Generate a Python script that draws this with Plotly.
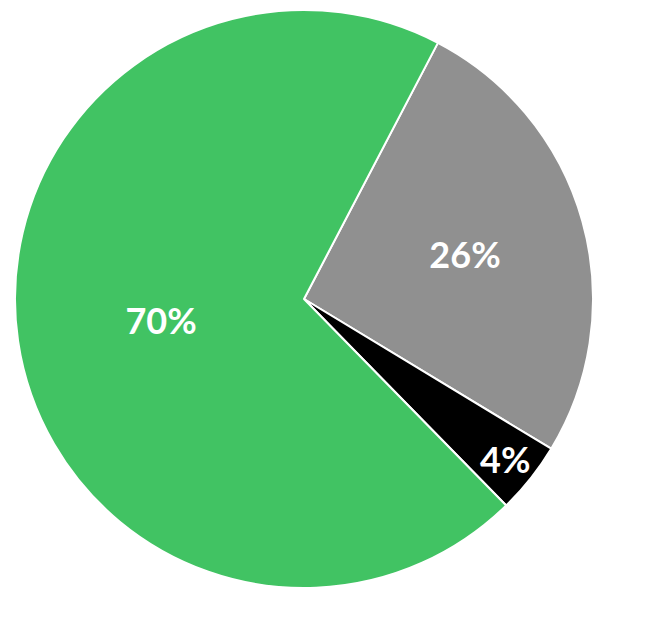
import plotly.graph_objects as go

labels = ["Gray", "Black", "Green"]
values = [26, 4, 70]
colors = ["#909090", "#000000", "#41C363"]

W, H = 648, 630
# page body has an 8px offset; place centre so it lands at (304, 299) on screen
cx, cy, r = 296, 291, 289

fig = go.Figure(go.Pie(
    labels=labels,
    values=values,
    sort=False,
    direction="clockwise",
    rotation=27.6,
    marker=dict(colors=colors, line=dict(color="white", width=2)),
    texttemplate="%{percent:.0%}",
    textposition="inside",
    insidetextorientation="horizontal",
    textfont=dict(family="Lato", size=36, color="white", weight="bold"),
    hoverinfo="label+percent",
    domain=dict(x=[(cx - r) / W, (cx + r) / W], y=[1 - (cy + r) / H, 1 - (cy - r) / H]),
))
fig.update_layout(
    width=W, height=H,
    margin=dict(l=0, r=0, t=0, b=0),
    showlegend=False,
    paper_bgcolor="white",
    uniformtext=dict(minsize=36, mode="show"),
)
fig.write_html("out.html")
